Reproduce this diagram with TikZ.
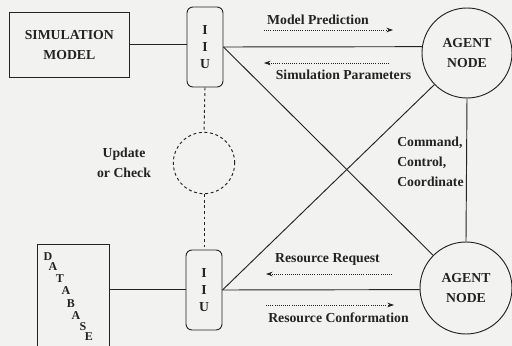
\documentclass[tikz,border=0pt]{standalone}
\usepackage{fontspec}
\setmainfont{Liberation Serif}
\usetikzlibrary{arrows.meta}
\definecolor{paper}{RGB}{242,242,240}
\definecolor{ink}{RGB}{35,35,35}
\begin{document}
\begin{tikzpicture}[x=0.75pt,y=-0.75pt,
  font=\fontsize{10.3}{15}\selectfont\bfseries,
  every node/.style={text=ink},
  ln/.style={draw=ink,line width=0.7pt},
  boxnode/.style={ln,rectangle,inner sep=0pt,align=center},
  iiu/.style={ln,rectangle,rounded corners=4.5pt,minimum width=27pt,minimum height=60pt,
    inner sep=0pt,align=center,font=\fontsize{10.3}{13}\selectfont\bfseries},
  agent/.style={ln,circle,inner sep=0pt,align=center},
  flow/.style={draw=ink,densely dotted,line width=0.6pt,-{Stealth[length=5pt,width=3.5pt]}},
  dbl/.style={inner sep=0pt,font=\fontsize{9}{9}\selectfont\bfseries}]
\fill[paper] (0,0) rectangle (512,346);
\useasboundingbox (0,0) rectangle (512,346);

% blocks
\node[boxnode,minimum width=90pt,minimum height=48.75pt] (sim) at (69.3,44.7) {SIMULATION\\MODEL};
\node[iiu] (iiuT) at (205,47) {I\\I\\U};
\node[iiu] (iiuB) at (204,290) {I\\I\\U};
\node[agent,minimum size=67.5pt] (agentT) at (467,53) {AGENT\\NODE};
\node[agent,minimum size=69pt] (agentB) at (466,288) {AGENT\\NODE};
\node[ln,dash pattern=on 2.2pt off 2pt,circle,minimum size=46pt,inner sep=0pt] (chk) at (204,163) {};
\node[boxnode,minimum width=54pt,minimum height=77pt] (db) at (73.3,295.5) {};

% staggered letters of the database label
\foreach \ch/\px/\py [count=\i] in {D/48/257,A/53/267,T/60/279,A/66/291,B/71/304,A/76/316,S/83/327,E/89/337}
  \node[dbl] (dbch\i) at (\px,\py) {\ch};

% solid links
\draw[ln] (sim.east) -- (sim.east -| iiuT.west);
\draw[ln] (iiuT.east) -- (agentT.172);
\draw[ln] (iiuT.east) -- (agentB);
\draw[ln] (iiuB.east) -- (agentT);
\draw[ln] (iiuB.east) -- (agentB.182);
\draw[ln] ([yshift=0.3pt]iiuB.west) -- ([yshift=0.3pt]iiuB.west -| db.east);
\draw[ln] (agentT.south) -- (agentB.north);

% dashed update/check path
\draw[ln,dash pattern=on 2.2pt off 2pt] (iiuT.south) -- (chk.north);
\draw[ln,dash pattern=on 2.2pt off 2pt] (chk.south) -- (iiuB.north);

% message arrows
\coordinate (mp1) at (264,30);  \coordinate (mp2) at (393,30);
\coordinate (sp1) at (389,63);  \coordinate (sp2) at (264,63);
\coordinate (rr1) at (392,274); \coordinate (rr2) at (266,274);
\coordinate (rc1) at (266,305); \coordinate (rc2) at (394,305);
\draw[flow] (mp1) -- (mp2);
\draw[flow] (sp1) -- (sp2);
\draw[flow] (rr1) -- (rr2);
\draw[flow] (rc1) -- (rc2);

% labels
\node (lmp) at (318,20) {Model Prediction};
\node (lsp) at (343.5,75) {Simulation Parameters};
\node (lrr) at (327.5,259) {Resource Request};
\node (lrc) at (338.5,318) {Resource Conformation};
\node[align=center] (luc) at (124,163) {Update\\or Check};
\node[align=left,anchor=west,inner sep=0pt] (lcc) at (397,162) {Command,\\Control,\\Coordinate};
\end{tikzpicture}
\end{document}
